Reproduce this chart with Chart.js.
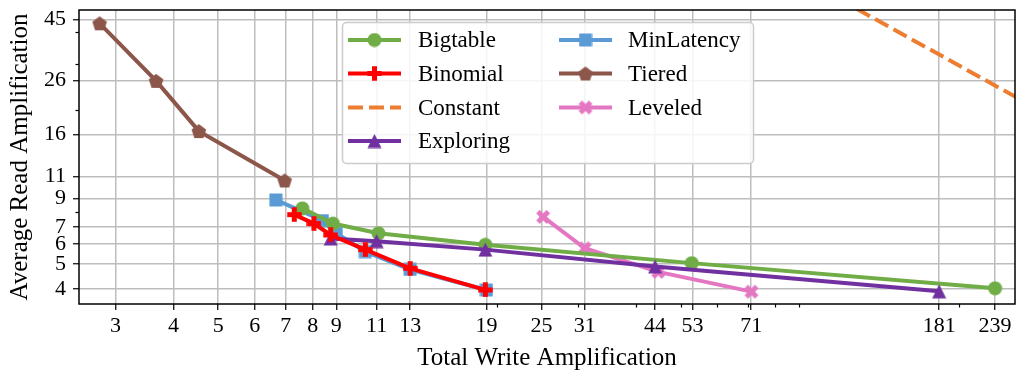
<!DOCTYPE html>
<html>
<head>
<meta charset="utf-8">
<script src="https://cdn.jsdelivr.net/npm/chart.js@4/dist/chart.umd.min.js"></script>
<style>
  html, body { margin: 0; padding: 0; background: #fff; }
</style>
</head>
<body>
<canvas id="graphic" width="1016" height="375"></canvas>
<script>
// series names (legend order)
var seriesNames = ['Bigtable', 'Binomial', 'Constant', 'Exploring', 'MinLatency', 'Tiered', 'Leveled'];

// values (write amp, read amp)
var bigtableX = [7.6, 8.85, 11.1, 18.9, 52.8, 239];
var bigtableY = [8.25, 7.2, 6.6, 5.95, 5.05, 4.03];
var binomialX = [7.3, 8.05, 8.75, 10.4, 13.0, 18.9];
var binomialY = [7.8, 7.2, 6.5, 5.7, 4.82, 3.97];
var constantX = [100, 300];
var constantY = [59.3, 19.8];
var exploringX = [8.75, 11.0, 18.9, 44.0, 181];
var exploringY = [6.3, 6.15, 5.7, 4.9, 3.92];
var minLatencyX = [6.66, 8.4, 9.0, 10.4, 13.0, 19.0];
var minLatencyY = [8.9, 7.4, 6.6, 5.6, 4.77, 3.97];
var tieredX = [2.77, 3.67, 4.54, 6.96];
var tieredY = [43.4, 25.9, 16.5, 10.6];
var leveledX = [25.2, 31.0, 44.7, 71.1];
var leveledY = [7.65, 5.77, 4.67, 3.91];

// tick labels
var xTickValues = [3, 4, 5, 6, 7, 8, 9, 11, 13, 19, 25, 31, 44, 53, 71, 181, 239];
var yTickValues = [4, 5, 6, 7, 9, 11, 16, 26, 45];
var xMinorTicks = [20, 30, 40, 50, 60, 70, 80, 90, 200];
var yMinorTicks = [8, 20, 30, 40];

var FONT = "'Liberation Serif', 'Times New Roman', serif";

function pts(xs, ys) {
  return xs.map(function (x, i) { return { x: x, y: ys[i] }; });
}

// little canvases used as point markers
function marker(shape, color, s) {
  var c = document.createElement('canvas');
  c.width = s; c.height = s;
  var g = c.getContext('2d');
  var h = s / 2;
  g.fillStyle = color;
  g.beginPath();
  if (shape === 'circle') {
    g.arc(h, h, h - 0.5, 0, 2 * Math.PI);
  } else if (shape === 'square') {
    g.rect(0.5, 0.5, s - 1, s - 1);
  } else if (shape === 'triangle') {
    g.moveTo(h, 0.5);
    g.lineTo(s - 0.5, s - 0.5);
    g.lineTo(0.5, s - 0.5);
  } else if (shape === 'pentagon') {
    for (var i = 0; i < 5; i++) {
      var a = (-90 + 72 * i) * Math.PI / 180;
      var px = h + (h - 0.3) * Math.cos(a), py = h + 0.8 + (h - 0.3) * Math.sin(a);
      if (i === 0) g.moveTo(px, py); else g.lineTo(px, py);
    }
  } else if (shape === 'plus' || shape === 'x') {
    var w = s / 6, r = h - 0.3;
    var p = [[-w, -r], [w, -r], [w, -w], [r, -w], [r, w], [w, w], [w, r], [-w, r], [-w, w], [-r, w], [-r, -w], [-w, -w]];
    var rot = shape === 'x' ? Math.PI / 4 : 0;
    var k = shape === 'x' ? 0.95 : 1;
    p.forEach(function (q, j) {
      var xx = (q[0] * Math.cos(rot) - q[1] * Math.sin(rot)) * k + h;
      var yy = (q[0] * Math.sin(rot) + q[1] * Math.cos(rot)) * k + h;
      if (j === 0) g.moveTo(xx, yy); else g.lineTo(xx, yy);
    });
  }
  g.closePath();
  g.fill();
  return c;
}

var colors = {
  Bigtable: '#70ad47',
  Binomial: '#ff0000',
  Constant: '#ed7d31',
  Exploring: '#7030a0',
  MinLatency: '#5b9bd5',
  Tiered: '#8c564b',
  Leveled: '#e377c2'
};

var markers = {
  Bigtable: marker('circle', colors.Bigtable, 15),
  Binomial: marker('plus', colors.Binomial, 15),
  Constant: null,
  Exploring: marker('triangle', colors.Exploring, 15),
  MinLatency: marker('square', colors.MinLatency, 14),
  Tiered: marker('pentagon', colors.Tiered, 16),
  Leveled: marker('x', colors.Leveled, 16)
};

var seriesData = {
  Bigtable: pts(bigtableX, bigtableY),
  Binomial: pts(binomialX, binomialY),
  Constant: pts(constantX, constantY),
  Exploring: pts(exploringX, exploringY),
  MinLatency: pts(minLatencyX, minLatencyY),
  Tiered: pts(tieredX, tieredY),
  Leveled: pts(leveledX, leveledY)
};

// drawing order: lower = on top
var drawOrder = { Constant: 7, Tiered: 6, MinLatency: 5, Leveled: 4, Bigtable: 3, Exploring: 2, Binomial: 1 };

var datasets = seriesNames.map(function (name) {
  var m = markers[name];
  return {
    label: name,
    data: seriesData[name],
    borderColor: colors[name],
    backgroundColor: colors[name],
    borderWidth: 4,
    borderDash: name === 'Constant' ? [15, 6] : [],
    pointStyle: m || false,
    pointRadius: m ? 7 : 0,
    pointHoverRadius: m ? 7 : 0,
    showLine: true,
    fill: false,
    tension: 0,
    clip: 0,
    order: drawOrder[name]
  };
});

// legend box inside the plot, two columns
var legendBox = {
  id: 'legendBox',
  afterDraw: function (chart) {
    var ctx = chart.ctx;
    ctx.save();
    var bx = 342.5, by = 22.5, bw = 411, bh = 141, rr = 4;
    ctx.beginPath();
    ctx.moveTo(bx + rr, by);
    ctx.arcTo(bx + bw, by, bx + bw, by + bh, rr);
    ctx.arcTo(bx + bw, by + bh, bx, by + bh, rr);
    ctx.arcTo(bx, by + bh, bx, by, rr);
    ctx.arcTo(bx, by, bx + bw, by, rr);
    ctx.closePath();
    ctx.fillStyle = 'rgba(255,255,255,0.85)';
    ctx.fill();
    ctx.strokeStyle = '#cccccc';
    ctx.lineWidth = 1.5;
    ctx.stroke();

    var rowsY = [40, 73.5, 107.5, 141];
    chart.data.datasets.forEach(function (ds, i) {
      var col = i < 4 ? 0 : 1, row = i % 4;
      var x0 = col ? 559 : 348, x1 = x0 + 53, y = rowsY[row];
      ctx.strokeStyle = ds.borderColor;
      ctx.lineWidth = ds.borderWidth;
      ctx.setLineDash(ds.borderDash);
      ctx.beginPath();
      ctx.moveTo(x0, y);
      ctx.lineTo(x1, y);
      ctx.stroke();
      ctx.setLineDash([]);
      if (ds.pointStyle) {
        var img = ds.pointStyle;
        ctx.drawImage(img, (x0 + x1) / 2 - img.width / 2, y - img.height / 2);
      }
      ctx.fillStyle = '#000';
      ctx.font = '23px ' + FONT;
      ctx.textBaseline = 'middle';
      ctx.textAlign = 'left';
      ctx.fillText(ds.label, col ? 628 : 418, y + 1);
    });
    ctx.restore();
  }
};

// frame round the plot and the small minor tick marks
var frame = {
  id: 'frame',
  afterDatasetsDraw: function (chart) {
    var ctx = chart.ctx, a = chart.chartArea;
    var xs = chart.scales.x, ys = chart.scales.y;
    ctx.save();
    ctx.strokeStyle = '#000';
    ctx.lineWidth = 1.2;
    xMinorTicks.forEach(function (v) {
      var px = Math.round(xs.getPixelForValue(v)) + 0.5;
      ctx.beginPath(); ctx.moveTo(px, a.bottom); ctx.lineTo(px, a.bottom + 3.5); ctx.stroke();
    });
    yMinorTicks.forEach(function (v) {
      var py = Math.round(ys.getPixelForValue(v)) + 0.5;
      ctx.beginPath(); ctx.moveTo(a.left - 3.5, py); ctx.lineTo(a.left, py); ctx.stroke();
    });
    ctx.lineWidth = 1.5;
    ctx.strokeRect(a.left, a.top, a.right - a.left, a.bottom - a.top);
    ctx.restore();
  }
};

var ctx = document.getElementById('graphic').getContext('2d');

var opciones = {
  responsive: false,
  animation: false,
  devicePixelRatio: 1,
  layout: { autoPadding: false, padding: { top: 10, right: 1, left: 0, bottom: 0 } },
  plugins: { legend: { display: false }, tooltip: { enabled: false } },
  scales: {
    x: {
      type: 'logarithmic',
      min: 2.5,
      max: 264,
      afterBuildTicks: function (s) { s.ticks = xTickValues.map(function (v) { return { value: v }; }); },
      afterFit: function (s) { s.height = 71; s.paddingLeft = 0; s.paddingRight = 0; },
      ticks: {
        autoSkip: false, maxRotation: 0, padding: 3, color: '#000',
        font: { family: FONT, size: 22 },
        callback: function (v) { return String(v); }
      },
      grid: { color: '#bdbdbd', lineWidth: 1.5, tickColor: '#000', tickLength: 6, tickWidth: 1.2 },
      border: { display: false },
      title: {
        display: true, text: 'Total Write Amplification', color: '#000',
        font: { family: FONT, size: 25 }, padding: { top: 0, bottom: 2 }
      }
    },
    y: {
      type: 'logarithmic',
      min: 3.5,
      max: 48.9,
      afterBuildTicks: function (s) { s.ticks = yTickValues.map(function (v) { return { value: v }; }); },
      afterFit: function (s) { s.width = 79; s.paddingTop = 0; s.paddingBottom = 0; },
      ticks: {
        autoSkip: false, padding: 7, color: '#000',
        font: { family: FONT, size: 22 },
        callback: function (v) { return String(v); }
      },
      grid: { color: '#bdbdbd', lineWidth: 1.5, tickColor: '#000', tickLength: 6, tickWidth: 1.2 },
      border: { display: false },
      title: {
        display: true, text: 'Average Read Amplification', color: '#000',
        font: { family: FONT, size: 25 }, padding: { top: 5, bottom: 0 }
      }
    }
  }
};

var miGrafico = new Chart(ctx, {
  type: 'scatter',
  data: { datasets: datasets },
  options: opciones,
  plugins: [legendBox, frame]
});
</script>
</body>
</html>
